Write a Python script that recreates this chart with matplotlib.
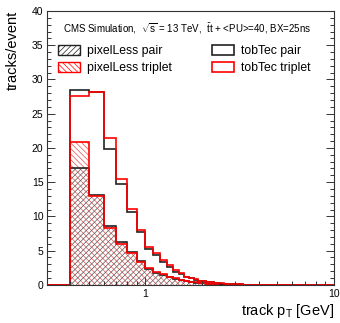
import numpy as np
import matplotlib
matplotlib.use("Agg")
import matplotlib.pyplot as plt
from matplotlib.patches import Patch
from matplotlib.ticker import LogLocator, FixedLocator, NullFormatter, FuncFormatter, MultipleLocator

plt.rcParams["font.family"] = ["Liberation Sans", "DejaVu Sans"]
plt.rcParams["mathtext.fontset"] = "custom"
plt.rcParams["mathtext.rm"] = "Liberation Sans"
plt.rcParams["mathtext.it"] = "Liberation Sans:italic"
plt.rcParams["hatch.linewidth"] = 0.5

# bins of 0.1 GeV, from 0.3 up to 10 GeV
edges = np.round(np.arange(0.3, 10.001, 0.1), 1)
nbins = len(edges) - 1

tobtec_pair = [0, 28.5, 28.1, 19.9, 14.8, 10.65, 7.7, 5.3, 4.4, 3.4, 2.67,
               1.95, 1.6, 1.1, 0.95, 0.75, 0.6, 0.5, 0.42, 0.35, 0.3, 0.25,
               0.2, 0.17, 0.14, 0.12, 0.1, 0.08, 0.07, 0.06, 0.05, 0.04,
               0.04, 0.03, 0.03, 0.02, 0.02, 0.01]
tobtec_triplet = [0, 27.6, 28.2, 21.4, 15.4, 11.15, 8.0, 5.55, 4.65, 3.7, 2.9,
                  2.2, 1.75, 1.2, 0.97, 0.8, 0.62, 0.52, 0.44, 0.37, 0.31, 0.26,
                  0.21, 0.18, 0.15, 0.12, 0.1, 0.09, 0.07, 0.06, 0.05, 0.05,
                  0.04, 0.03, 0.03, 0.02, 0.02, 0.01]
pixelless_pair = [0, 17.1, 13.15, 8.6, 6.2, 4.75, 3.55, 2.3, 1.8, 1.45, 1.1,
                  0.9, 0.7, 0.55, 0.43, 0.34, 0.27, 0.21, 0.17, 0.14, 0.11, 0.09,
                  0.07, 0.06, 0.05, 0.04, 0.03, 0.03, 0.02, 0.02, 0.01, 0.01,
                  0.01, 0.01, 0, 0, 0, 0]
pixelless_triplet = [0, 20.9, 13.0, 8.25, 5.95, 4.6, 3.4, 2.4, 1.9, 1.55, 1.2,
                     0.97, 0.75, 0.6, 0.47, 0.37, 0.29, 0.23, 0.18, 0.15, 0.12, 0.1,
                     0.08, 0.06, 0.05, 0.04, 0.04, 0.03, 0.02, 0.02, 0.01, 0.01,
                     0.01, 0.01, 0, 0, 0, 0]


def pad(v):
    return np.array(v + [0] * (nbins - len(v)), dtype=float)


black = "#222222"
red = "#ff0000"
hatch_black = "//////"
hatch_red = "\\\\\\\\\\\\"

fig = plt.figure(figsize=(3.4, 3.23), dpi=100)
ax = fig.add_axes([0.138, 0.118, 0.844, 0.848])

# hatched pixelLess histograms
ax.stairs(pad(pixelless_triplet), edges, fill=True, facecolor="none",
          edgecolor="#e85050", hatch=hatch_red, linewidth=0)
ax.stairs(pad(pixelless_pair), edges, fill=True, facecolor="none",
          edgecolor="#555555", hatch=hatch_black, linewidth=0)
ax.stairs(pad(pixelless_pair), edges, color=black, linewidth=1.2)
ax.stairs(pad(pixelless_triplet), edges, color=red, linewidth=1.2)

# tobTec histograms
ax.stairs(pad(tobtec_pair), edges, color=black, linewidth=1.2)
ax.stairs(pad(tobtec_triplet), edges, color=red, linewidth=1.2)

ax.set_xscale("log")
ax.set_xlim(0.3, 10)
ax.set_ylim(0, 40)

ax.xaxis.set_major_locator(FixedLocator([1, 10]))
ax.xaxis.set_major_formatter(FuncFormatter(lambda v, _: f"{v:g}"))
ax.xaxis.set_minor_locator(LogLocator(base=10, subs=np.arange(2, 10)))
ax.xaxis.set_minor_formatter(NullFormatter())
ax.yaxis.set_major_locator(MultipleLocator(5))
ax.yaxis.set_minor_locator(MultipleLocator(1))

ax.tick_params(which="both", direction="in", right=True, top=False,
               labelsize=7.5, width=0.7, colors="#333333", labelcolor="black")
ax.tick_params(which="major", length=6)
ax.tick_params(which="minor", length=3)
ax.tick_params(axis="x", pad=3)
ax.tick_params(axis="y", pad=2.5)
for s in ax.spines.values():
    s.set_linewidth(0.8)
    s.set_color("#333333")

ax.set_ylabel("tracks/event", fontsize=10.5, loc="top")
ax.yaxis.set_label_coords(-0.093, 1.0)
ax.set_xlabel(r"track p$_{\mathrm{T}}$ [GeV]", fontsize=10.5, loc="right")
ax.xaxis.set_label_coords(1.0, -0.062)

ax.text(0.055, 0.937,
        r"CMS Simulation,  $\mathrm{\sqrt{s}}$ = 13 TeV,  $\mathrm{\bar{t}t}$ + <PU>=40, BX=25ns",
        transform=ax.transAxes, fontsize=7, va="center", ha="left")

handles = [
    Patch(facecolor="none", edgecolor=black, hatch=hatch_black, linewidth=1.0,
          label="pixelLess pair"),
    Patch(facecolor="none", edgecolor=red, hatch=hatch_red, linewidth=1.0,
          label="pixelLess triplet"),
    Patch(facecolor="white", edgecolor=black, linewidth=1.2, label="tobTec pair"),
    Patch(facecolor="white", edgecolor=red, linewidth=1.2, label="tobTec triplet"),
]
ax.legend(handles=handles, ncol=2, loc="upper left", bbox_to_anchor=(0.02, 0.893),
          frameon=False, fontsize=8.8, handlelength=1.8, handleheight=0.8,
          handletextpad=0.6, columnspacing=3.3, labelspacing=0.42,
          borderaxespad=0)

fig.savefig("out.png", dpi=100)
